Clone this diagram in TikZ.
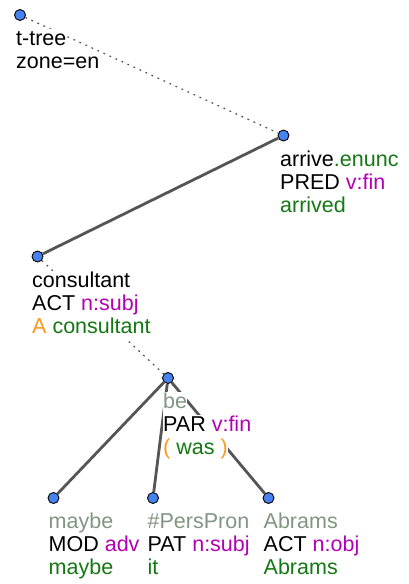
\documentclass[tikz,border=0pt]{standalone}
\usepackage{fontspec}
\setmainfont{Liberation Sans}
\definecolor{edgegray}{RGB}{85,85,85}
\definecolor{dotgray}{RGB}{80,80,80}
\definecolor{nodeblue}{RGB}{70,130,240}
\definecolor{lemgreen}{RGB}{20,120,20}
\definecolor{funcmag}{RGB}{180,0,180}
\definecolor{auxorange}{RGB}{255,150,30}
\definecolor{tlgray}{RGB}{130,150,130}
\tikzset{
  tnode/.style={circle, draw=black, line width=0.9pt, fill=nodeblue, minimum size=11pt, inner sep=0pt},
  txt/.style={anchor=base west, inner sep=0pt, fill=white, text height=16.5pt, text depth=6.5pt, font=\fontsize{21.5}{23}\selectfont},
  solidedge/.style={draw=edgegray, line width=2.8pt},
  dotedge/.style={draw=dotgray, line width=1.2pt, dash pattern=on 1.8pt off 4.8pt},
}
\begin{document}
\begin{tikzpicture}[x=1pt,y=-1pt]
\useasboundingbox (0,0) rectangle (409,584);
% circles
\node[tnode] (nroot) at (20,15) {};
\node[tnode] (narrive) at (283.5,135.5) {};
\node[tnode] (ncons) at (37.5,256.5) {};
\node[tnode] (nbe) at (168,378) {};
\node[tnode] (nmaybe) at (53.5,498) {};
\node[tnode] (npers) at (153,498) {};
\node[tnode] (nabr) at (268.5,498) {};
% edges
\draw[dotedge] (nroot) -- (narrive);
\draw[solidedge] (narrive) -- (ncons);
\draw[dotedge] (ncons) -- (nbe);
\draw[solidedge] (nbe) -- (nmaybe);
\draw[solidedge] (nbe) -- (npers);
\draw[solidedge] (nbe) -- (nabr);
% labels
\node[txt] (r1) at (16,45) {t-tree};
\node[txt] (r2) at (16,68) {zone=en};
\node[txt] (a1) at (280,166) {arrive\textcolor{lemgreen}{.enunc}};
\node[txt] (a2) at (280,189) {PRED \textcolor{funcmag}{v:fin}};
\node[txt] (a3) at (280,212) {\textcolor{lemgreen}{arrived}};
\node[txt] (c1) at (32,287) {consultant};
\node[txt] (c2) at (32,310) {ACT \textcolor{funcmag}{n:subj}};
\node[txt] (c3) at (32,333) {\textcolor{auxorange}{A} \textcolor{lemgreen}{consultant}};
\node[txt] (b1) at (163,408) {\textcolor{tlgray}{be}};
\node[txt] (b2) at (163,431) {PAR \textcolor{funcmag}{v:fin}};
\node[txt] (b3) at (163,454) {\textcolor{auxorange}{(} \textcolor{lemgreen}{was} \textcolor{auxorange}{)}};
\node[txt] (m1) at (48.5,528) {\textcolor{tlgray}{maybe}};
\node[txt] (m2) at (48.5,551) {MOD \textcolor{funcmag}{adv}};
\node[txt] (m3) at (48.5,574) {\textcolor{lemgreen}{maybe}};
\node[txt] (p1) at (147.5,528) {\textcolor{tlgray}{\#PersPron}};
\node[txt] (p2) at (147.5,551) {PAT \textcolor{funcmag}{n:subj}};
\node[txt] (p3) at (147.5,574) {\textcolor{lemgreen}{it}};
\node[txt] (ab1) at (263.5,528) {\textcolor{tlgray}{Abrams}};
\node[txt] (ab2) at (263.5,551) {ACT \textcolor{funcmag}{n:obj}};
\node[txt] (ab3) at (263.5,574) {\textcolor{lemgreen}{Abrams}};
\end{tikzpicture}
\end{document}
